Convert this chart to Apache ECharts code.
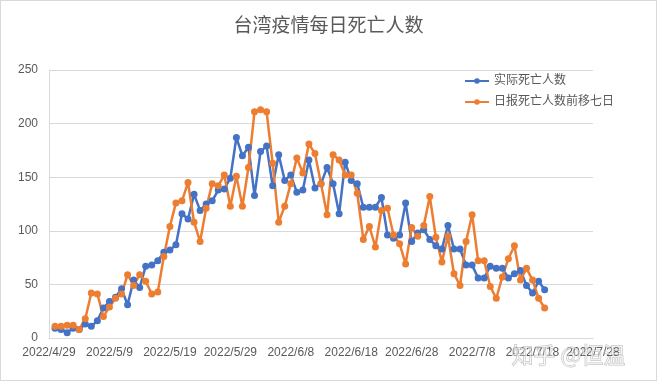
<!DOCTYPE html>
<html>
<head>
<meta charset="utf-8">
<script src="https://cdn.jsdelivr.net/npm/echarts@6/dist/echarts.min.js"></script>
<style>
html,body{margin:0;padding:0;background:#fff;}
#chart{width:657px;height:381px;box-sizing:border-box;border:1px solid #d9d9d9;}
</style>
</head>
<body>
<div id="chart"></div>
<script>
var chartTitle = '台湾疫情每日死亡人数';
var seriesNames = ['实际死亡人数', '日报死亡人数前移七日'];

var dates = [
'2022/4/29','2022/4/30',
'2022/5/1','2022/5/2','2022/5/3','2022/5/4','2022/5/5','2022/5/6','2022/5/7','2022/5/8','2022/5/9','2022/5/10',
'2022/5/11','2022/5/12','2022/5/13','2022/5/14','2022/5/15','2022/5/16','2022/5/17','2022/5/18','2022/5/19','2022/5/20',
'2022/5/21','2022/5/22','2022/5/23','2022/5/24','2022/5/25','2022/5/26','2022/5/27','2022/5/28','2022/5/29','2022/5/30','2022/5/31',
'2022/6/1','2022/6/2','2022/6/3','2022/6/4','2022/6/5','2022/6/6','2022/6/7','2022/6/8','2022/6/9','2022/6/10',
'2022/6/11','2022/6/12','2022/6/13','2022/6/14','2022/6/15','2022/6/16','2022/6/17','2022/6/18','2022/6/19','2022/6/20',
'2022/6/21','2022/6/22','2022/6/23','2022/6/24','2022/6/25','2022/6/26','2022/6/27','2022/6/28','2022/6/29','2022/6/30',
'2022/7/1','2022/7/2','2022/7/3','2022/7/4','2022/7/5','2022/7/6','2022/7/7','2022/7/8','2022/7/9','2022/7/10',
'2022/7/11','2022/7/12','2022/7/13','2022/7/14','2022/7/15','2022/7/16','2022/7/17','2022/7/18','2022/7/19','2022/7/20',
'2022/7/21','2022/7/22','2022/7/23','2022/7/24','2022/7/25','2022/7/26','2022/7/27','2022/7/28'
];

var actualDeaths = [
null,
9, 8, 5, 9, 8, 13, 11, 16, 28, 34,
38, 46, 31, 54, 47, 67, 68, 72, 80, 82,
87, 116, 111, 134, 119, 125, 128, 138, 139, 149,
187, 170, 178, 133, 174, 179, 142, 171, 147, 152,
136, 138, 166, 140, 144, 159, 144, 116, 164, 147,
144, 122, 122, 122, 131, 96, 93, 96, 126, 90,
98, 101, 92, 86, 83, 105, 83, 83, 68, 68,
56, 56, 67, 65, 65, 56, 60, 63, 49, 42,
53, 45,
null, null, null, null, null, null, null, null
];

var reportedShifted = [
null,
11, 11, 12, 12, 8, 18, 42, 41, 20, 29,
37, 41, 59, 49, 59, 53, 41, 43, 76, 104,
126, 128, 145, 108, 90, 121, 144, 142, 152, 123,
151, 123, 159, 211, 213, 211, 163, 108, 123, 144,
168, 154, 181, 172, 144, 115, 171, 166, 152, 152,
135, 92, 104, 85, 119, 121, 96, 88, 69, 103,
95, 105, 132, 94, 71, 95, 60, 49, 90, 115,
72, 72, 48, 37, 57, 74, 86, 54, 65, 54,
37, 28,
null, null, null, null, null, null, null, null
];

var yTicks = [0, 50, 100, 150, 200, 250];

var FONT = '"Liberation Sans", "Noto Sans CJK SC", sans-serif';
var TXT = '#595959';

var chart = echarts.init(document.getElementById('chart'), null, {renderer: 'canvas'});
chart.setOption({
  animation: false,
  backgroundColor: '#ffffff',
  title: {
    text: chartTitle,
    left: 'center',
    top: 11,
    textStyle: {fontFamily: FONT, fontSize: 19, fontWeight: 'normal', color: TXT}
  },
  legend: {
    orient: 'vertical',
    left: 463,
    top: 74,
    padding: 0,
    itemGap: 9,
    itemWidth: 24,
    itemHeight: 7,
    data: seriesNames,
    textStyle: {fontFamily: FONT, fontSize: 12, color: TXT}
  },
  grid: {left: 48, right: 63, top: 69, bottom: 42, containLabel: false},
  xAxis: {
    type: 'category',
    data: dates,
    boundaryGap: false,
    axisLine: {show: true, lineStyle: {color: '#d9d9d9', width: 1}},
    axisTick: {show: false},
    axisLabel: {interval: 9, margin: 9, fontFamily: FONT, fontSize: 12, color: TXT, showMaxLabel: true},
    splitLine: {show: false}
  },
  yAxis: {
    type: 'value',
    min: yTicks[0],
    max: yTicks[yTicks.length - 1],
    interval: 50,
    axisLine: {show: true, lineStyle: {color: '#d9d9d9', width: 1}},
    axisTick: {show: false},
    axisLabel: {margin: 11, fontFamily: FONT, fontSize: 12, color: TXT},
    splitLine: {show: true, lineStyle: {color: '#d9d9d9', width: 1}}
  },
  series: [
    {
      name: seriesNames[0],
      type: 'line',
      data: actualDeaths,
      symbol: 'circle',
      symbolSize: 7,
      showAllSymbol: true,
      connectNulls: false,
      lineStyle: {color: '#4472C4', width: 2.5},
      itemStyle: {color: '#4472C4'}
    },
    {
      name: seriesNames[1],
      type: 'line',
      data: reportedShifted,
      symbol: 'circle',
      symbolSize: 7,
      showAllSymbol: true,
      connectNulls: false,
      lineStyle: {color: '#ED7D31', width: 2.5},
      itemStyle: {color: '#ED7D31'}
    }
  ],
  graphic: [
    {
      type: 'text',
      left: 510,
      top: 342,
      silent: true,
      z: 100,
      style: {
        text: '知乎 @恒温',
        font: '22px "Noto Sans CJK SC", sans-serif',
        fill: 'rgba(255,255,255,0.55)',
        stroke: 'rgba(120,120,120,0.45)',
        lineWidth: 1
      }
    }
  ]
});
</script>
</body>
</html>
